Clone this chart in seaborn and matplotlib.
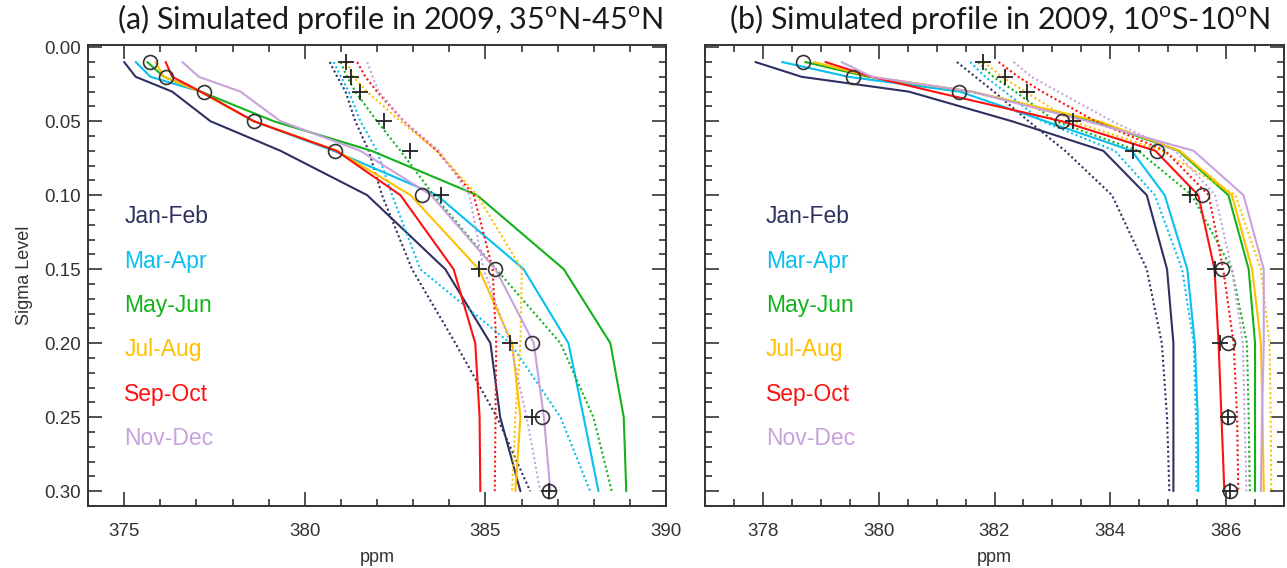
import numpy as np
import pandas as pd
import matplotlib
matplotlib.use("Agg")
import matplotlib.pyplot as plt
import seaborn as sns
from matplotlib.ticker import MultipleLocator, FormatStrFormatter

# ---------------- data ----------------
sigma = [0.01, 0.02, 0.03, 0.05, 0.07, 0.10, 0.15, 0.20, 0.25, 0.30]
periods = ["Jan-Feb", "Mar-Apr", "May-Jun", "Jul-Aug", "Sep-Oct", "Nov-Dec"]
colors = ["#2e3062", "#08c0f0", "#12b21a", "#ffc000", "#ff1010", "#c8a2dc"]

# panel (a) 35N-45N, model solid lines
a_solid_jan = [375.00, 375.32, 376.33, 377.39, 379.33, 381.73, 383.89, 385.14, 385.41, 385.97]
a_solid_mar = [375.32, 375.73, 377.12, 378.59, 380.80, 383.66, 386.06, 387.30, 387.72, 388.13]
a_solid_may = [375.64, 376.10, 377.12, 379.14, 381.85, 384.77, 387.17, 388.46, 388.83, 388.90]
a_solid_jul = [375.87, 376.10, 377.10, 378.59, 380.90, 382.93, 384.82, 385.74, 385.97, 385.83]
a_solid_sep = [376.15, 376.33, 377.12, 378.59, 380.88, 382.65, 384.12, 384.72, 384.84, 384.86]
a_solid_nov = [376.61, 377.07, 378.22, 379.33, 381.54, 383.50, 385.28, 386.34, 386.62, 386.80]
# panel (a) dotted lines
a_dot_jan = [380.69, 380.90, 381.13, 381.40, 381.77, 382.14, 382.97, 384.17, 385.32, 386.24]
a_dot_mar = [380.80, 381.00, 381.22, 381.54, 382.00, 382.42, 383.20, 385.69, 387.08, 387.90]
a_dot_may = [380.99, 381.17, 381.40, 382.00, 382.65, 383.57, 385.30, 387.08, 387.99, 388.50]
a_dot_jul = [381.17, 381.35, 381.72, 382.65, 383.66, 384.77, 386.01, 385.97, 385.83, 385.74]
a_dot_sep = [381.45, 381.68, 382.00, 382.74, 383.66, 384.68, 385.20, 385.30, 385.28, 385.26]
a_dot_nov = [381.73, 381.88, 382.05, 382.75, 383.72, 384.56, 384.95, 385.69, 386.14, 386.52]
a_circle = [375.73, 376.15, 377.21, 378.59, 380.85, 383.25, 385.28, 386.29, 386.57, 386.76]
a_plus = [381.13, 381.29, 381.54, 382.19, 382.92, 383.76, 384.82, 385.69, 386.29, 386.76]

# panel (b) 10S-10N, model solid lines
b_solid_jan = [377.87, 378.67, 380.52, 382.30, 383.88, 384.63, 384.98, 385.09, 385.09, 385.09]
b_solid_mar = [378.33, 379.48, 381.40, 382.88, 384.37, 384.94, 385.33, 385.46, 385.51, 385.52]
b_solid_may = [378.73, 379.82, 381.60, 383.74, 385.18, 386.04, 386.39, 386.50, 386.50, 386.50]
b_solid_jul = [378.88, 379.88, 381.60, 383.80, 385.20, 386.10, 386.45, 386.60, 386.63, 386.65]
b_solid_sep = [379.08, 379.88, 380.95, 383.16, 384.78, 385.52, 385.80, 385.87, 385.92, 385.97]
b_solid_nov = [379.36, 379.88, 381.60, 383.60, 385.44, 386.30, 386.65, 386.65, 386.62, 386.60]
# panel (b) dotted lines
b_dot_jan = [381.35, 381.67, 381.99, 382.59, 383.22, 384.03, 384.63, 384.89, 384.98, 385.02]
b_dot_mar = [381.58, 381.84, 382.18, 382.82, 384.08, 384.77, 385.24, 385.44, 385.48, 385.49]
b_dot_may = [381.72, 381.98, 382.36, 383.05, 384.48, 385.41, 386.10, 386.36, 386.39, 386.41]
b_dot_jul = [381.81, 382.13, 382.53, 383.34, 384.89, 386.16, 386.60, 386.75, 386.77, 386.78]
b_dot_sep = [382.07, 382.41, 382.82, 383.74, 384.95, 385.70, 385.95, 386.13, 386.19, 386.21]
b_dot_nov = [382.33, 382.64, 383.10, 384.03, 385.12, 385.81, 386.10, 386.29, 386.32, 386.35]
b_circle = [378.70, 379.56, 381.38, 383.16, 384.80, 385.58, 385.93, 386.03, 386.04, 386.06]
b_plus = [381.81, 382.18, 382.56, 383.36, 384.40, 385.38, 385.81, 385.90, 386.04, 386.06]

titles = ["(a) Simulated profile in 2009, 35$^\\mathregular{o}$N-45$^\\mathregular{o}$N",
          "(b) Simulated profile in 2009, 10$^\\mathregular{o}$S-10$^\\mathregular{o}$N"]
y_ticks = [0.00, 0.05, 0.10, 0.15, 0.20, 0.25, 0.30]

panels = {
    "a": ({"solid": [a_solid_jan, a_solid_mar, a_solid_may, a_solid_jul, a_solid_sep, a_solid_nov],
           "dotted": [a_dot_jan, a_dot_mar, a_dot_may, a_dot_jul, a_dot_sep, a_dot_nov]},
          a_circle, a_plus),
    "b": ({"solid": [b_solid_jan, b_solid_mar, b_solid_may, b_solid_jul, b_solid_sep, b_solid_nov],
           "dotted": [b_dot_jan, b_dot_mar, b_dot_may, b_dot_jul, b_dot_sep, b_dot_nov]},
          b_circle, b_plus),
}

rows = []
for pk, (series, _, _) in panels.items():
    for kind, lst in series.items():
        for per, vals in zip(periods, lst):
            for s, v in zip(sigma, vals):
                rows.append({"panel": pk, "kind": kind, "period": per, "sigma": s, "ppm": v})
df = pd.DataFrame(rows)

# ---------------- style ----------------
sns.set_style("ticks")
plt.rcParams["font.family"] = ["Liberation Sans", "DejaVu Sans"]
plt.rcParams["mathtext.fontset"] = "custom"
plt.rcParams["mathtext.rm"] = "Lato"

fig = plt.figure(figsize=(12.87, 5.68), dpi=100)
ax_a = fig.add_axes([88 / 1287, 62 / 568, 578 / 1287, 461 / 568])
ax_b = fig.add_axes([705 / 1287, 62 / 568, 579 / 1287, 461 / 568])

frame_col = "#333333"
xlims = {"a": (374, 390), "b": (377, 387)}
xmaj = {"a": 5, "b": 2}
xmin = {"a": 1, "b": 0.5}
label_x = {"a": 375.0, "b": 378.05}

for pk, ax in zip(["a", "b"], [ax_a, ax_b]):
    sub = df[df.panel == pk]
    sns.lineplot(data=sub, x="ppm", y="sigma", hue="period", style="kind",
                 hue_order=periods, palette=colors, style_order=["solid", "dotted"],
                 dashes={"solid": "", "dotted": (1.0, 1.3)}, estimator=None,
                 sort=False, orient="y", lw=1.5, legend=False, ax=ax)
    _, circ, plus = panels[pk]
    sns.lineplot(x=circ, y=sigma, marker="o", linestyle="none", ms=10, mfc="none",
                 mec="#333333", mew=1.2, color="#333333", estimator=None, sort=False,
                 orient="y", legend=False, ax=ax, zorder=5)
    sns.lineplot(x=plus, y=sigma, marker="+", linestyle="none", ms=11, mec="#222222",
                 mew=1.3, color="#222222", estimator=None, sort=False,
                 orient="y", legend=False, ax=ax, zorder=5)

    ax.set_xlim(*xlims[pk])
    ax.set_ylim(0.31, -0.0015)
    ax.xaxis.set_major_locator(MultipleLocator(xmaj[pk]))
    ax.xaxis.set_minor_locator(MultipleLocator(xmin[pk]))
    ax.set_yticks(y_ticks)
    ax.yaxis.set_minor_locator(MultipleLocator(0.01))
    ax.yaxis.set_major_formatter(FormatStrFormatter("%.2f"))
    ax.tick_params(which="both", direction="in", top=True, right=True,
                   colors=frame_col, labelcolor="#333333", width=1.2, labelsize=13.5)
    ax.tick_params(which="major", length=10)
    ax.tick_params(which="minor", length=5)
    ax.tick_params(axis="x", pad=12)
    ax.tick_params(axis="y", pad=5)
    for sp in ax.spines.values():
        sp.set_color(frame_col)
        sp.set_linewidth(1.4)
    ax.set_xlabel("ppm", fontsize=13, color="#333333", labelpad=7)
    for i, (per, col) in enumerate(zip(periods, colors)):
        ax.text(label_x[pk], 0.1145 + 0.0300 * i, per, color=col, fontsize=16.5,
                va="center", ha="left")

ax_a.set_ylabel("Sigma Level", fontsize=13, color="#333333", labelpad=8)
ax_b.set_ylabel("")
ax_b.tick_params(axis="y", labelleft=False)

title_font = ["Lato", "DejaVu Sans"]
fig.text(390 / 1287, 1 - 19 / 568, titles[0], fontsize=22, family=title_font,
         ha="center", va="center", color="#1a1a1a")
fig.text(1000 / 1287, 1 - 19 / 568, titles[1], fontsize=22, family=title_font,
         ha="center", va="center", color="#1a1a1a")

fig.savefig("out.png", dpi=100)
